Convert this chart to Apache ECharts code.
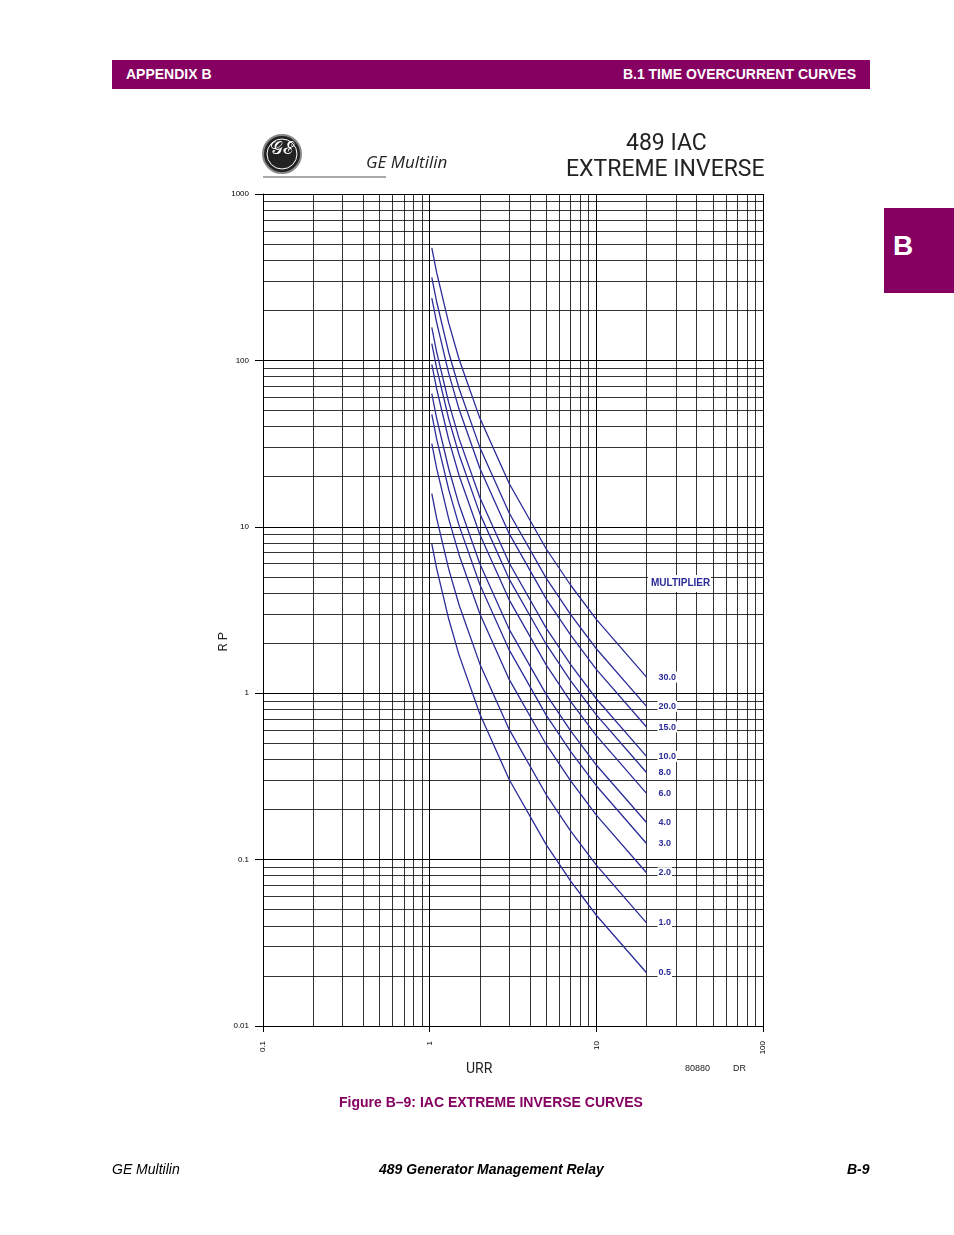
<!DOCTYPE html>
<html><head><meta charset="utf-8">
<script src="https://cdn.jsdelivr.net/npm/echarts@6/dist/echarts.min.js"></script>
<style>
body{margin:0;width:954px;height:1235px;background:#fff;position:relative;font-family:"Liberation Sans",Arial,sans-serif;overflow:hidden}
.hdr{position:absolute;left:112px;top:60px;width:758px;height:29px;background:#850060;color:#fff;font-weight:bold;font-size:14px}
.hdr span{position:absolute;top:6px}
.tab{position:absolute;left:884px;top:208px;width:70px;height:85px;background:#850060;color:#fff;font-weight:bold;font-size:28px}
.tab span{position:absolute;left:9px;top:22px}
#c{position:absolute;left:0;top:0;width:954px;height:1235px}
.t{position:absolute;white-space:nowrap}
</style></head><body>
<div class="hdr"><span style="left:14px">APPENDIX B</span><span style="right:14px">B.1 TIME OVERCURRENT CURVES</span></div>
<div class="tab"><span>B</span></div>
<div id="c"></div>
<div class="t" style="left:112px;top:1161px;font-size:14px;font-style:italic">GE Multilin</div>
<div class="t" style="left:379px;top:1161px;font-size:14px;font-style:italic;font-weight:bold">489 Generator Management Relay</div>
<div class="t" style="left:847px;top:1161px;font-size:14px;font-style:italic;font-weight:bold">B-9</div>
<div class="t" style="left:339px;top:1094px;font-size:14px;font-weight:bold;color:#850060">Figure B–9: IAC EXTREME INVERSE CURVES</div>
<script>
const currents = [1.03, 1.1, 1.3, 1.5, 2, 3, 5, 7, 10, 20];
const multipliers = ['0.5','1.0','2.0','3.0','4.0','6.0','8.0','10.0','15.0','20.0','30.0'];
const m05 = [7.9, 5.65, 2.8, 1.7, 0.75, 0.303, 0.123, 0.0745, 0.0463, 0.0209];
const m1  = [15.8, 11.3, 5.59, 3.4, 1.5, 0.606, 0.246, 0.149, 0.0926, 0.0417];
const m2  = [31.6, 22.6, 11.2, 6.8, 3.0, 1.21, 0.492, 0.298, 0.185, 0.0834];
const m3  = [47.4, 33.9, 16.8, 10.2, 4.5, 1.82, 0.738, 0.447, 0.278, 0.125];
const m4  = [63.2, 45.2, 22.4, 13.6, 6.0, 2.42, 0.984, 0.596, 0.370, 0.167];
const m6  = [94.8, 67.8, 33.5, 20.4, 9.0, 3.64, 1.48, 0.894, 0.556, 0.250];
const m8  = [126, 90.4, 44.7, 27.2, 12.0, 4.85, 1.97, 1.19, 0.741, 0.334];
const m10 = [158, 113, 55.9, 34.0, 15.0, 6.06, 2.46, 1.49, 0.926, 0.417];
const m15 = [237, 170, 83.9, 51.0, 22.5, 9.09, 3.69, 2.24, 1.39, 0.626];
const m20 = [316, 226, 112, 68, 30, 12.1, 4.92, 2.98, 1.85, 0.834];
const m30 = [474, 339, 168, 102, 45, 18.2, 7.38, 4.47, 2.78, 1.25];
const curves = [m05, m1, m2, m3, m4, m6, m8, m10, m15, m20, m30];
const xTicks = ['0.1','1','10','100'];
const yTicks = ['0.01','0.1','1','10','100','1000'];

const navy = '#2b2b99';
const chart = echarts.init(document.getElementById('c'));
const series = curves.map((vals, i) => ({
  type: 'line', name: multipliers[i], symbol: 'none', smooth: false,
  lineStyle: {color: navy, width: 1.3},
  data: vals.map((v, j) => [currents[j], v]),
  endLabel: {show: true, formatter: multipliers[i], color: navy, fontSize: 9, fontWeight: 'bold',
    fontFamily: 'Liberation Sans', offset: [3, 0], backgroundColor: '#fff', padding: [1, 1]}
}));
const fmt = (v) => String(+v.toPrecision(3));
chart.setOption({
  animation: false,
  grid: {left: 263, right: 191, top: 194, bottom: 209},
  xAxis: {type: 'log', logBase: 10, min: 0.1, max: 100,
    axisLine: {show: true, onZero: false, lineStyle: {color: '#000', width: 1}},
    axisTick: {show: true, length: 6, inside: false, lineStyle: {color: '#000'}},
    axisLabel: {rotate: 90, fontSize: 8, color: '#000', margin: 15, formatter: (v) => xTicks.find(t => Math.abs(+t - v) < 1e-9 * v) || fmt(v)},
    splitLine: {show: true, lineStyle: {color: '#000', width: 1}},
    minorTick: {show: false, splitNumber: 9},
    minorSplitLine: {show: true, lineStyle: {color: '#000', width: 0.8}}},
  yAxis: {type: 'log', logBase: 10, min: 0.01, max: 1000,
    axisLine: {show: true, lineStyle: {color: '#000', width: 1}},
    axisTick: {show: true, length: 8, lineStyle: {color: '#000'}},
    axisLabel: {fontSize: 8, color: '#000', margin: 14, formatter: (v) => yTicks.find(t => Math.abs(+t - v) < 1e-9 * v) || fmt(v)},
    splitLine: {show: true, lineStyle: {color: '#000', width: 1}},
    minorTick: {show: false, splitNumber: 9},
    minorSplitLine: {show: true, lineStyle: {color: '#000', width: 0.8}}},
  series: series,
  graphic: [
    {type: 'circle', shape: {cx: 282, cy: 154, r: 19}, style: {fill: '#222', stroke: '#888', lineWidth: 2}},
    {type: 'circle', shape: {cx: 282, cy: 154, r: 15}, style: {fill: 'none', stroke: '#fff', lineWidth: 1}},
    {type: 'text', left: 270, top: 140, style: {text: '𝒢ℰ', fill: '#fff', fontSize: 18, fontFamily: 'DejaVu Serif'}},
    {type: 'line', shape: {x1: 263, y1: 177, x2: 386, y2: 177}, style: {stroke: '#555', lineWidth: 1}},
    {type: 'text', left: 366, top: 155, style: {text: 'GE Multilin', fill: '#222', fontSize: 17, fontStyle: 'italic', fontFamily: 'Open Sans'}},
    {type: 'text', left: 626, top: 133, style: {text: '489 IAC', fill: '#222', fontSize: 23, fontFamily: 'Roboto'}},
    {type: 'text', left: 566, top: 159, style: {text: 'EXTREME INVERSE', fill: '#222', fontSize: 23, fontFamily: 'Roboto'}},
    {type: 'rect', z: 100, shape: {x: 648, y: 575, width: 63, height: 17}, style: {fill: '#fff'}},
    {type: 'text', z: 101, left: 651, top: 578, style: {text: 'MULTIPLIER', fill: navy, fontSize: 10, fontWeight: 'bold', fontFamily: 'Liberation Sans'}},
    {type: 'text', left: 217, top: 632, rotation: Math.PI / 2, style: {text: 'R P', fill: '#222', fontSize: 13, fontFamily: 'Roboto'}},
    {type: 'text', left: 466, top: 1062, style: {text: 'URR', fill: '#222', fontSize: 14, fontFamily: 'Roboto'}},
    {type: 'text', left: 685, top: 1064, style: {text: '80880', fill: '#222', fontSize: 9}},
    {type: 'text', left: 733, top: 1064, style: {text: 'DR', fill: '#222', fontSize: 9}}
  ]
});
</script>
</body></html>
